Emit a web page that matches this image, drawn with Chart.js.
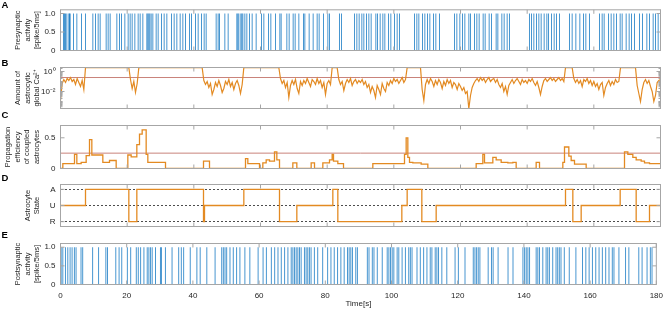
<!DOCTYPE html>
<html>
<head>
<meta charset="utf-8">
<script src="https://cdn.jsdelivr.net/npm/chart.js@4.4.0/dist/chart.umd.min.js"></script>
<style>
  body { margin: 0; background: #fff; }
  #wrap { position: relative; width: 669px; height: 310px; overflow: hidden; }
  #wrap canvas { position: absolute; left: 0; top: 0; }
  .tag { position: absolute; left: 1.5px; font: bold 9.5px 'Liberation Sans', Arial, sans-serif; line-height: 1; color: #000; }
</style>
</head>
<body>
<div id="wrap">
  <canvas id="panelA" width="669" height="310"></canvas>
  <canvas id="panelB" width="669" height="310"></canvas>
  <canvas id="panelC" width="669" height="310"></canvas>
  <canvas id="panelD" width="669" height="310"></canvas>
  <canvas id="panelE" width="669" height="310"></canvas>
  <div class="tag" style="top:-0.4px">A</div>
  <div class="tag" style="top:58px">B</div>
  <div class="tag" style="top:110.4px">C</div>
  <div class="tag" style="top:172.7px">D</div>
  <div class="tag" style="top:229.7px">E</div>
</div>
<script>
'use strict';

// x 축 눈금 (초)
const xTicks = [0, 20, 40, 60, 80, 100, 120, 140, 160, 180];

// A: presynaptic spike times [s]
const preSpikes = [
  0.9, 1.2, 1.5, 1.9, 2.5, 2.7, 2.9, 3.9, 4.9, 6.3, 7.5, 9.7, 10.5, 11.3, 11.9, 13.7, 14.3, 14.9,
  16.9, 17.7, 18.3, 19.3, 20.3, 20.9, 21.5, 22.3, 23.3, 23.9, 24.7, 25.9, 26.2, 26.5, 26.8, 27.2,
  27.7, 28.7, 29.3, 30.3, 31.1, 31.9, 33.3, 34.1, 34.9, 35.9, 36.7, 37.5, 38.7, 39.3, 40.5, 41.3,
  42.3, 43.1, 43.7, 46.7, 47.3, 47.7, 49.3, 50.3, 52.9, 53.2, 53.5, 54.1, 54.4, 54.7, 55.3, 55.9,
  56.7, 57.5, 58.7, 60.3, 61.0, 62.4, 63.1, 64.5, 65.8, 66.2, 67.9, 68.6, 69.8, 70.4, 71.5, 72.9,
  73.3, 74.6, 75.8, 77.0, 77.6, 78.9, 80.2, 80.7, 83.7, 84.3, 88.2, 88.9, 89.6, 90.4, 91.0, 91.8,
  92.5, 93.2, 94.6, 95.1, 95.9, 96.7, 97.3, 98.4, 99.1, 100.2, 101.0, 101.7, 106.2, 106.9, 107.5,
  108.6, 109.3, 110.1, 110.8, 111.9, 112.6, 113.7, 118.2, 118.9, 119.8, 120.6, 121.3, 122.5, 123.0,
  124.2, 124.9, 125.6, 126.8, 127.4, 128.6, 129.3, 130.7, 131.2, 132.4, 133.1, 134.0, 134.7, 140.7,
  141.3, 142.0, 142.8, 143.5, 144.2, 145.1, 145.9, 146.4, 147.3, 148.1, 148.8, 149.7, 152.7, 153.5,
  154.6, 155.8, 156.9, 157.6, 158.7, 161.7, 162.5, 163.1, 164.4, 165.2, 166.0, 166.8, 167.9, 168.5,
  169.7, 170.6, 171.3, 172.2, 173.7, 174.6, 175.9, 176.7, 177.8, 178.5, 179.3
];

// B: log10 of astrocytic global Ca2+, one value every caStep seconds (SAT = clipped at top)
const caStep = 0.5;
const SAT = 0.38;
const caLog = [
  -2.9, -1.2, -0.8, -1.1, -0.7, -0.9, -0.6, -1.0, -0.8, -1.3, -0.7, -1.1, -1.5, -0.9, -1.8, SAT, SAT, SAT, SAT, SAT,
  SAT, SAT, SAT, SAT, SAT, SAT, SAT, SAT, SAT, SAT, SAT, SAT, SAT, SAT, SAT, SAT, SAT, SAT, SAT, SAT,
  SAT, SAT, -0.8, -1.7, -1.0, -2.1, -1.2, SAT, SAT, SAT, SAT, SAT, SAT, SAT, SAT, SAT, SAT, SAT, SAT, SAT,
  SAT, SAT, SAT, SAT, SAT, SAT, SAT, SAT, SAT, SAT, SAT, SAT, SAT, SAT, SAT, SAT, SAT, SAT, SAT, SAT,
  SAT, SAT, SAT, SAT, SAT, SAT, -0.9, -1.3, -1.0, -1.6, -1.2, -2.3, -1.8, -1.1, -1.5, -0.9, -1.4, -2.1, -1.7, -1.0,
  -1.3, -0.8, -1.5, -1.1, -1.8, -1.2, -0.9, -1.4, -2.2, -1.3, SAT, SAT, SAT, SAT, SAT, SAT, SAT, SAT, SAT, SAT,
  SAT, SAT, SAT, SAT, SAT, SAT, SAT, SAT, SAT, SAT, SAT, SAT, -0.7, -1.2, -0.9, -1.6, -1.1, -2.6, -1.4, -0.9,
  -1.3, -0.8, -1.7, -2.2, -1.0, -1.4, -0.9, -1.2, -0.7, -1.1, -1.5, -0.8, -1.0, -1.3, -0.7, -1.2, -0.9, -1.6, -1.1, -2.3,
  -1.2, -0.9, -1.3, SAT, SAT, SAT, SAT, -0.8, -1.3, -1.0, -1.9, -1.2, -0.8, -1.1, -0.7, -1.4, -1.0, -0.8, -1.2, -0.9,
  -1.1, -0.8, -1.3, -1.0, -1.6, -1.3, -2.1, -1.5, -1.9, -2.6, -1.4, -1.8, -2.3, -1.2, -1.7, -2.0, -1.1, -1.4, -0.9, -1.2,
  -0.7, -1.0, -0.8, -1.2, -0.9, -0.6, -1.1, -0.8, SAT, SAT, SAT, SAT, SAT, SAT, SAT, SAT, SAT, -1.8, -2.9, -1.3,
  -0.8, -1.2, -0.7, -1.0, -1.5, -0.9, -1.3, -0.8, -1.1, -1.7, -1.0, -1.4, -0.8, -1.2, -0.9, -1.6, -1.1, -1.3, -1.8, -1.2,
  -1.5, -1.9, -1.6, -2.2, -2.0, -3.7, -2.4, -1.6, -1.2, -0.9, -0.7, -1.0, -0.6, -0.9, -0.7, -1.1, -0.8, -0.6, -1.0, -0.8,
  -0.7, -1.1, -0.8, -1.3, -1.6, -1.2, -2.0, -1.5, -2.3, -1.4, -1.1, -0.8, -1.2, -0.9, -0.7, -1.0, -1.3, -0.8, -1.1, -0.9,
  -1.2, -0.8, -1.0, -0.7, -1.1, -1.4, -1.0, -1.6, -2.3, -1.5, -0.9, -0.7, -1.0, -0.8, -0.6, -0.9, -0.7, -1.0, -0.8, -0.6,
  -0.9, -0.7, -1.0, SAT, SAT, SAT, SAT, SAT, -0.7, -1.1, -0.8, -1.2, -0.9, -1.5, -0.8, -1.0, -0.7, -1.2, -0.9, -1.4,
  -1.0, -1.5, -1.2, -1.8, -1.3, -1.1, -2.4, -1.6, -1.2, -0.9, -1.4, -1.0, -1.3, -0.8, -1.1, -1.0, SAT, SAT, SAT, SAT,
  SAT, SAT, SAT, SAT, SAT, SAT, -1.4, -2.2, -3.0, -1.8, -1.1, -0.8, -1.2, -0.9, -1.5, -2.0, -3.0, -2.4, -1.1, -0.9,
  -0.8
];
const caThreshold = 0.25;

// C: propagation efficiency, value holds from each time on
const effTimes = [
  0, 0.7, 4.2, 4.9, 6.2, 7.7, 8.7, 9.4, 12.7, 14.7, 16.7, 20.2, 21.2, 22.9, 23.7, 24.5, 25.7, 26.2,
  31.5, 42.9, 44.7, 55.5, 56.2, 59.7, 60.7, 61.7, 62.7, 64.2, 64.9, 65.7, 69.7, 70.9, 75.2, 76.2,
  78.7, 80.7, 81.5, 81.9, 83.2, 84.9, 93.7, 103.2, 103.7, 104.2, 104.7, 105.7, 108.2, 110.2, 124.7,
  126.7, 127.2, 129.7, 130.7, 132.2, 134.2, 135.7, 136.7, 142.7, 143.7, 150.7, 151.2, 152.5, 153.2,
  154.2, 157.7, 169.2, 170.2, 171.7, 172.7, 174.2, 175.2, 176.7, 180
];
const effValues = [
  0, 0.08, 0.23, 0.08, 0.1, 0.21, 0.47, 0.22, 0.1, 0.13, 0, 0.22, 0.19, 0.39, 0.56, 0.63, 0.23, 0.1,
  0, 0.12, 0, 0.16, 0.08, 0, 0.09, 0.14, 0.12, 0.27, 0.14, 0, 0.09, 0, 0.09, 0,
  0.09, 0.14, 0.23, 0.12, 0.08, 0, 0.08, 0.23, 0.5, 0.18, 0.1, 0.09, 0.07, 0, 0.08,
  0.23, 0.09, 0.18, 0.14, 0.1, 0.09, 0.1, 0, 0.1, 0, 0.1, 0.35, 0.2, 0.13,
  0.07, 0, 0.27, 0.23, 0.18, 0.14, 0.12, 0.09, 0.08, 0.08
];
const effThreshold = 0.25;

// D: astrocyte state (0 = R, 1 = U, 2 = A), holds from each time on
const stateNames = ['R', 'U', 'A'];
const stateTimes = [0, 7.5, 20.5, 22.9, 42.9, 43.2, 55.0, 65.7, 70.9, 81.7, 83.2, 102.4, 104.0, 108.4,
  112.7, 151.5, 153.7, 156.2, 167.9, 172.7, 176.7, 180];
const stateValues = [1, 2, 0, 2, 0, 1, 2, 0, 1, 2, 0, 1, 2, 0,
  1, 2, 0, 1, 2, 0, 1, 1];

// E: postsynaptic spike times [s]
const postSpikes = [
  0.2, 0.7, 1.5, 2.2, 2.9, 3.5, 4.2, 4.7, 6.2, 6.7, 9.7, 11.5, 13.7, 14.2, 16.7, 17.7, 18.5, 20.2,
  21.2, 22.9, 23.5, 24.2, 25.2, 26.2, 26.7, 27.2, 27.7, 28.7, 30.2, 30.5, 31.7, 33.7, 35.7, 36.5,
  37.2, 39.2, 41.2, 42.2, 44.2, 46.7, 48.7, 49.2, 49.7, 50.2, 51.2, 52.2, 53.2, 54.2, 55.7, 57.2,
  59.7, 61.2, 62.2, 63.7, 64.7, 65.7, 66.7, 67.7, 68.7, 69.7, 70.2, 70.7, 71.2, 71.7, 72.2, 72.7,
  73.7, 74.2, 74.7, 75.2, 75.7, 76.7, 77.7, 79.2, 80.7, 81.7, 82.7, 83.7, 84.7, 85.7, 86.7, 87.2,
  87.7, 88.2, 89.2, 89.7, 92.7, 93.2, 94.2, 94.7, 95.7, 97.2, 98.7, 99.2, 99.7, 100.2, 100.7, 101.7,
  102.2, 103.2, 104.2, 105.2, 105.7, 106.2, 107.7, 108.7, 109.7, 110.7, 111.7, 112.2, 113.2, 113.7,
  114.2, 115.2, 116.7, 119.2, 120.2, 122.2, 124.7, 125.2, 125.7, 126.2, 126.7, 129.2, 130.2, 130.7,
  132.2, 135.2, 136.7, 139.7, 140.2, 140.7, 141.2, 141.7, 143.7, 144.2, 144.7, 145.7, 146.7, 147.2,
  147.7, 148.7, 149.7, 150.2, 150.7, 151.2, 152.2, 153.7, 155.7, 157.7, 158.7, 159.7, 160.7, 161.7,
  162.7, 163.7, 164.7, 165.7, 166.7, 167.2, 168.7, 170.7, 171.7, 174.7, 175.7, 177.2, 178.2, 178.7
];

// 색상
const spikeColor = 'rgba(0, 110, 190, 0.72)';
const orange = '#E38A22';
const redLine = '#C9837B';
const frameColor = '#A6A6A6';

Chart.defaults.font.family = "'Liberation Sans', Arial, Helvetica, sans-serif";
Chart.defaults.font.size = 8;
Chart.defaults.color = '#262626';
Chart.defaults.animation = false;
Chart.defaults.plugins.legend.display = false;
Chart.defaults.plugins.tooltip.enabled = false;
Chart.defaults.elements.point.radius = 0;
Chart.defaults.elements.line.tension = 0;

// MATLAB 스타일 박스 + 안쪽 눈금
const boxTicks = {
  id: 'boxTicks',
  afterDatasetsDraw(chart, args, opts) {
    const { ctx, chartArea: a } = chart;
    const x = chart.scales.x;
    const y = chart.scales.y;
    ctx.save();
    ctx.strokeStyle = frameColor;
    ctx.lineWidth = 1;
    ctx.beginPath();
    xTicks.forEach(v => {
      const px = x.getPixelForValue(v);
      ctx.moveTo(px, a.top); ctx.lineTo(px, a.top + 4);
      ctx.moveTo(px, a.bottom); ctx.lineTo(px, a.bottom - 4);
    });
    const tickY = (v, len) => {
      const py = y.getPixelForValue(v);
      ctx.moveTo(a.left, py); ctx.lineTo(a.left + len, py);
      ctx.moveTo(a.right, py); ctx.lineTo(a.right - len, py);
    };
    y.ticks.forEach(t => tickY(t.value, 4));
    (opts.minor || []).forEach(v => tickY(v, 2));
    ctx.stroke();
    ctx.strokeRect(a.left, a.top, a.right - a.left, a.bottom - a.top);
    ctx.restore();
  }
};

function xAxis(show) {
  return {
    type: 'linear', min: 0, max: 180, offset: false, display: show,
    afterBuildTicks: s => { s.ticks = xTicks.map(v => ({ value: v })); },
    afterFit: s => { if (show) s.height = 25.5; },
    grid: { display: false, drawTicks: false },
    border: { display: false },
    ticks: { padding: 6, maxRotation: 0, autoSkip: false },
    title: { display: show, text: 'Time[s]', padding: { top: 0, bottom: 1.2 }, font: { size: 8, lineHeight: 1.2 } }
  };
}

function yAxis(title, pad, min, max, ticks, fmt) {
  const axis = {
    min: min, max: max,
    afterFit: s => { s.width = 60.5; },
    afterBuildTicks: s => { s.ticks = ticks.map(v => ({ value: v })); },
    grid: { display: false, drawTicks: false },
    border: { display: false },
    ticks: { padding: 5 },
    title: { display: true, text: title, padding: { top: pad, bottom: 0 }, font: { size: 7.5, lineHeight: 1.27 } }
  };
  if (fmt) axis.ticks.callback = fmt;
  return axis;
}

function makePanel(id, type, top, bottom, datasets, yOpts, showX, extra) {
  return new Chart(document.getElementById(id), {
    type: type,
    data: { datasets: datasets },
    options: {
      responsive: false,
      devicePixelRatio: 1,
      layout: { padding: { left: 0, right: 8.5, top: top, bottom: showX ? 0 : 310 - bottom } },
      scales: { x: xAxis(showX), y: yOpts },
      plugins: { boxTicks: extra || {} }
    },
    plugins: [boxTicks]
  });
}

function spikeSets(times) {
  return [
    { type: 'bar', data: times.map(t => ({ x: t, y: 1 })), backgroundColor: spikeColor,
      barThickness: 1, borderWidth: 0, inflateAmount: 0 },
    { type: 'line', data: [{ x: 0, y: 0 }, { x: 180, y: 0 }], borderColor: 'rgba(0, 114, 189, 0.35)', borderWidth: 1 }
  ];
}

// A
makePanel('panelA', 'bar', 8.5, 50.5, spikeSets(preSpikes),
  yAxis(['Presynaptic', 'activity', '[spike/5ms]'], 13.3, 0, 1.1, [0, 0.5, 1]), false);

// B (log)
const caData = caLog.map((v, i) => ({ x: i * caStep, y: Math.pow(10, v) }));
const caMinor = [];
[-4, -3, -2, -1, 0].forEach(d => {
  for (let k = 1; k <= 9; k++) {
    const v = k * Math.pow(10, d);
    if (v > Math.pow(10, -3.7) && v < Math.pow(10, 0.4)) caMinor.push(v);
  }
});
const yB = yAxis(['Amount of', 'astrocytic', 'global Ca²⁺'], 13.3, Math.pow(10, -3.7), Math.pow(10, 0.4),
  [0.01, 1], v => (v === 1 ? '10⁰' : '10⁻²'));
yB.type = 'logarithmic';
makePanel('panelB', 'line', 67.5, 108.5, [
  { data: caData, borderColor: orange, borderWidth: 1.2 },
  { data: [{ x: 0, y: caThreshold }, { x: 180, y: caThreshold }], borderColor: redLine, borderWidth: 1 }
], yB, false, { minor: caMinor });

// C
makePanel('panelC', 'line', 125.5, 168.5, [
  { data: effTimes.map((t, i) => ({ x: t, y: effValues[i] })), borderColor: orange, borderWidth: 1.3, stepped: 'before' },
  { data: [{ x: 0, y: effThreshold }, { x: 180, y: effThreshold }], borderColor: redLine, borderWidth: 1 }
], yAxis(['Propagation', 'efficiency', 'of coupled', 'astrocytes'], 3.5, 0, 0.7, [0, 0.5]), false);

// D
const yD = yAxis(['Astrocyte', 'State'], 22.8, -0.3, 2.3, [0, 1, 2], v => stateNames[v]);
yD.grid = { display: true, color: '#4d4d4d', lineWidth: 1, drawTicks: false };
yD.border = { display: false, dash: [2, 2] };
makePanel('panelD', 'line', 184.5, 226.5, [
  { data: stateTimes.map((t, i) => ({ x: t, y: stateValues[i] })), borderColor: orange, borderWidth: 1.3, stepped: 'before' }
], yD, false);

// E
makePanel('panelE', 'bar', 243.5, 284.5, spikeSets(postSpikes),
  yAxis(['Postsynaptic', 'activity', '[spike/5ms]'], 13.3, 0, 1.1, [0, 0.5, 1]), true);
</script>
</body>
</html>
